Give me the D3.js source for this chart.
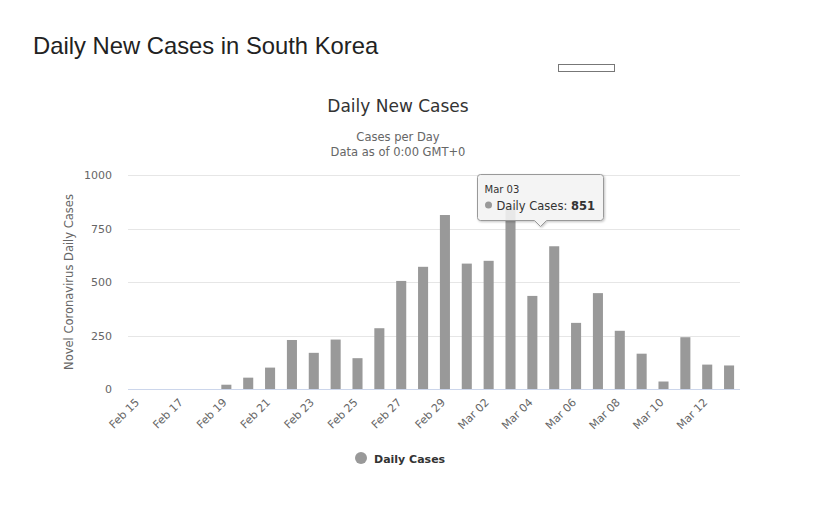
<!DOCTYPE html>
<html>
<head>
<meta charset="utf-8">
<script src="https://cdn.jsdelivr.net/npm/d3@7/dist/d3.min.js"></script>
<style>
    body { margin: 0; background: #fff; }
    svg { display: block; }
</style>
</head>
<body>
<svg id="chart"></svg>
<script>
// data
var days = ['Feb 15', 'Feb 16', 'Feb 17', 'Feb 18', 'Feb 19', 'Feb 20', 'Feb 21', 'Feb 22', 'Feb 23', 'Feb 24',
    'Feb 25', 'Feb 26', 'Feb 27', 'Feb 28', 'Feb 29', 'Mar 01', 'Mar 02', 'Mar 03', 'Mar 04', 'Mar 05',
    'Mar 06', 'Mar 07', 'Mar 08', 'Mar 09', 'Mar 10', 'Mar 11', 'Mar 12', 'Mar 13'];
var dailyCases = [0, 0, 0, 0, 20, 53, 100, 229, 169, 231, 144, 284, 505, 571, 813, 586, 599, 851, 435, 667,
    309, 448, 272, 165, 35, 242, 114, 110];
var yTicks = [0, 250, 500, 750, 1000];
var tooltipIndex = 17;

var width = 837, height = 507;
var font = '"DejaVu Sans", "Lucida Grande", Arial, sans-serif';

var svg = d3.select('svg#chart')
    .attr('width', width)
    .attr('height', height)
    .style('font-family', font);

// page title
svg.append('text')
    .attr('x', 33).attr('y', 54)
    .style('font-family', '"Liberation Sans", Arial, sans-serif')
    .style('font-size', '23.8px')
    .style('fill', '#222')
    .text('Daily New Cases in South Korea');

// little empty box next to the title
svg.append('rect')
    .attr('x', 558.5).attr('y', 64.5)
    .attr('width', 56).attr('height', 7)
    .style('fill', '#fff')
    .style('stroke', '#777')
    .style('stroke-width', 1);

// chart titles
svg.append('text')
    .attr('x', 398).attr('y', 112)
    .attr('text-anchor', 'middle')
    .style('font-size', '17px')
    .style('fill', '#333')
    .text('Daily New Cases');
svg.append('text')
    .attr('x', 398).attr('y', 141)
    .attr('text-anchor', 'middle')
    .style('font-size', '11.5px')
    .style('fill', '#666')
    .text('Cases per Day');
svg.append('text')
    .attr('x', 398).attr('y', 156)
    .attr('text-anchor', 'middle')
    .style('font-size', '11.5px')
    .style('fill', '#666')
    .text('Data as of 0:00 GMT+0');

var x = d3.scaleBand()
    .domain(days)
    .range([128, 740])
    .paddingInner(0.54)
    .paddingOuter(0.27);

var y = d3.scaleLinear()
    .domain([0, 1000])
    .range([389, 175]);

// grid lines
svg.append('g')
    .selectAll('line')
    .data(yTicks.slice(1))
    .enter().append('line')
    .attr('x1', 128).attr('x2', 740)
    .attr('y1', function(d){ return Math.round(y(d)) + 0.5; })
    .attr('y2', function(d){ return Math.round(y(d)) + 0.5; })
    .style('stroke', '#e6e6e6');

// y axis
var yAxis = svg.append('g')
    .attr('transform', 'translate(112,0)')
    .call(d3.axisLeft(y).tickValues(yTicks).tickFormat(d3.format('d')).tickSize(0).tickPadding(0));
yAxis.select('.domain').remove();
yAxis.selectAll('text')
    .style('font-family', font)
    .style('font-size', '11px')
    .style('fill', '#666');

svg.append('text')
    .attr('transform', 'translate(73,282) rotate(-90)')
    .attr('text-anchor', 'middle')
    .style('font-size', '11.5px')
    .style('fill', '#666')
    .text('Novel Coronavirus Daily Cases');

// bars
svg.append('g')
    .selectAll('rect')
    .data(dailyCases)
    .enter().append('rect')
    .attr('x', function(d, i){ return x(days[i]); })
    .attr('width', x.bandwidth())
    .attr('y', function(d){ return y(d); })
    .attr('height', function(d){ return y(0) - y(d); })
    .style('fill', '#999');

// x axis
var xAxis = svg.append('g')
    .attr('transform', 'translate(0,389)')
    .call(d3.axisBottom(x)
        .tickValues(days.filter(function(d, i){ return i % 2 === 0; }))
        .tickSize(0)
        .tickPadding(0));
xAxis.select('.domain')
    .attr('d', 'M128,0.5H740')
    .style('stroke', '#ccd6eb');
xAxis.selectAll('text')
    .attr('y', 0).attr('dy', 0)
    .attr('text-anchor', 'end')
    .attr('transform', 'translate(1,14) rotate(-45)')
    .style('font-family', font)
    .style('font-size', '11px')
    .style('fill', '#666');

// legend
svg.append('circle')
    .attr('cx', 361).attr('cy', 458).attr('r', 6)
    .style('fill', '#999');
svg.append('text')
    .attr('x', 374).attr('y', 462.5)
    .style('font-size', '11px')
    .style('font-weight', 'bold')
    .style('fill', '#333')
    .text('Daily Cases');

// tooltip
var defs = svg.append('defs');
var shadow = defs.append('filter').attr('id', 'shadow')
    .attr('x', '-10%').attr('y', '-10%').attr('width', '130%').attr('height', '140%');
shadow.append('feDropShadow')
    .attr('dx', 1).attr('dy', 1).attr('stdDeviation', 1.2)
    .attr('flood-color', '#000').attr('flood-opacity', 0.25);

var tipX = 477.5, tipY = 174.5, tipW = 126, tipH = 46;
var pointX = x(days[tooltipIndex]) + x.bandwidth() / 2 + 30;
var tip = svg.append('g');
tip.append('path')
    .attr('d', 'M' + (tipX + 3) + ',' + tipY +
        'H' + (tipX + tipW - 3) + 'Q' + (tipX + tipW) + ',' + tipY + ' ' + (tipX + tipW) + ',' + (tipY + 3) +
        'V' + (tipY + tipH - 3) + 'Q' + (tipX + tipW) + ',' + (tipY + tipH) + ' ' + (tipX + tipW - 3) + ',' + (tipY + tipH) +
        'H' + (pointX + 6) + 'L' + pointX + ',' + (tipY + tipH + 6) + 'L' + (pointX - 6) + ',' + (tipY + tipH) +
        'H' + (tipX + 3) + 'Q' + tipX + ',' + (tipY + tipH) + ' ' + tipX + ',' + (tipY + tipH - 3) +
        'V' + (tipY + 3) + 'Q' + tipX + ',' + tipY + ' ' + (tipX + 3) + ',' + tipY + 'Z')
    .style('fill', 'rgba(247,247,247,0.85)')
    .style('stroke', '#999')
    .style('stroke-width', 1)
    .attr('filter', 'url(#shadow)');
tip.append('text')
    .attr('x', tipX + 7).attr('y', tipY + 18)
    .style('font-size', '10px')
    .style('fill', '#333')
    .text(days[tooltipIndex]);
tip.append('circle')
    .attr('cx', tipX + 11).attr('cy', tipY + 30.5).attr('r', 3.5)
    .style('fill', '#999');
var line = tip.append('text')
    .attr('x', tipX + 19).attr('y', tipY + 35)
    .style('font-size', '11.5px')
    .style('fill', '#333');
line.append('tspan').text('Daily Cases: ');
line.append('tspan').style('font-weight', 'bold').text(dailyCases[tooltipIndex]);
</script>
</body>
</html>
